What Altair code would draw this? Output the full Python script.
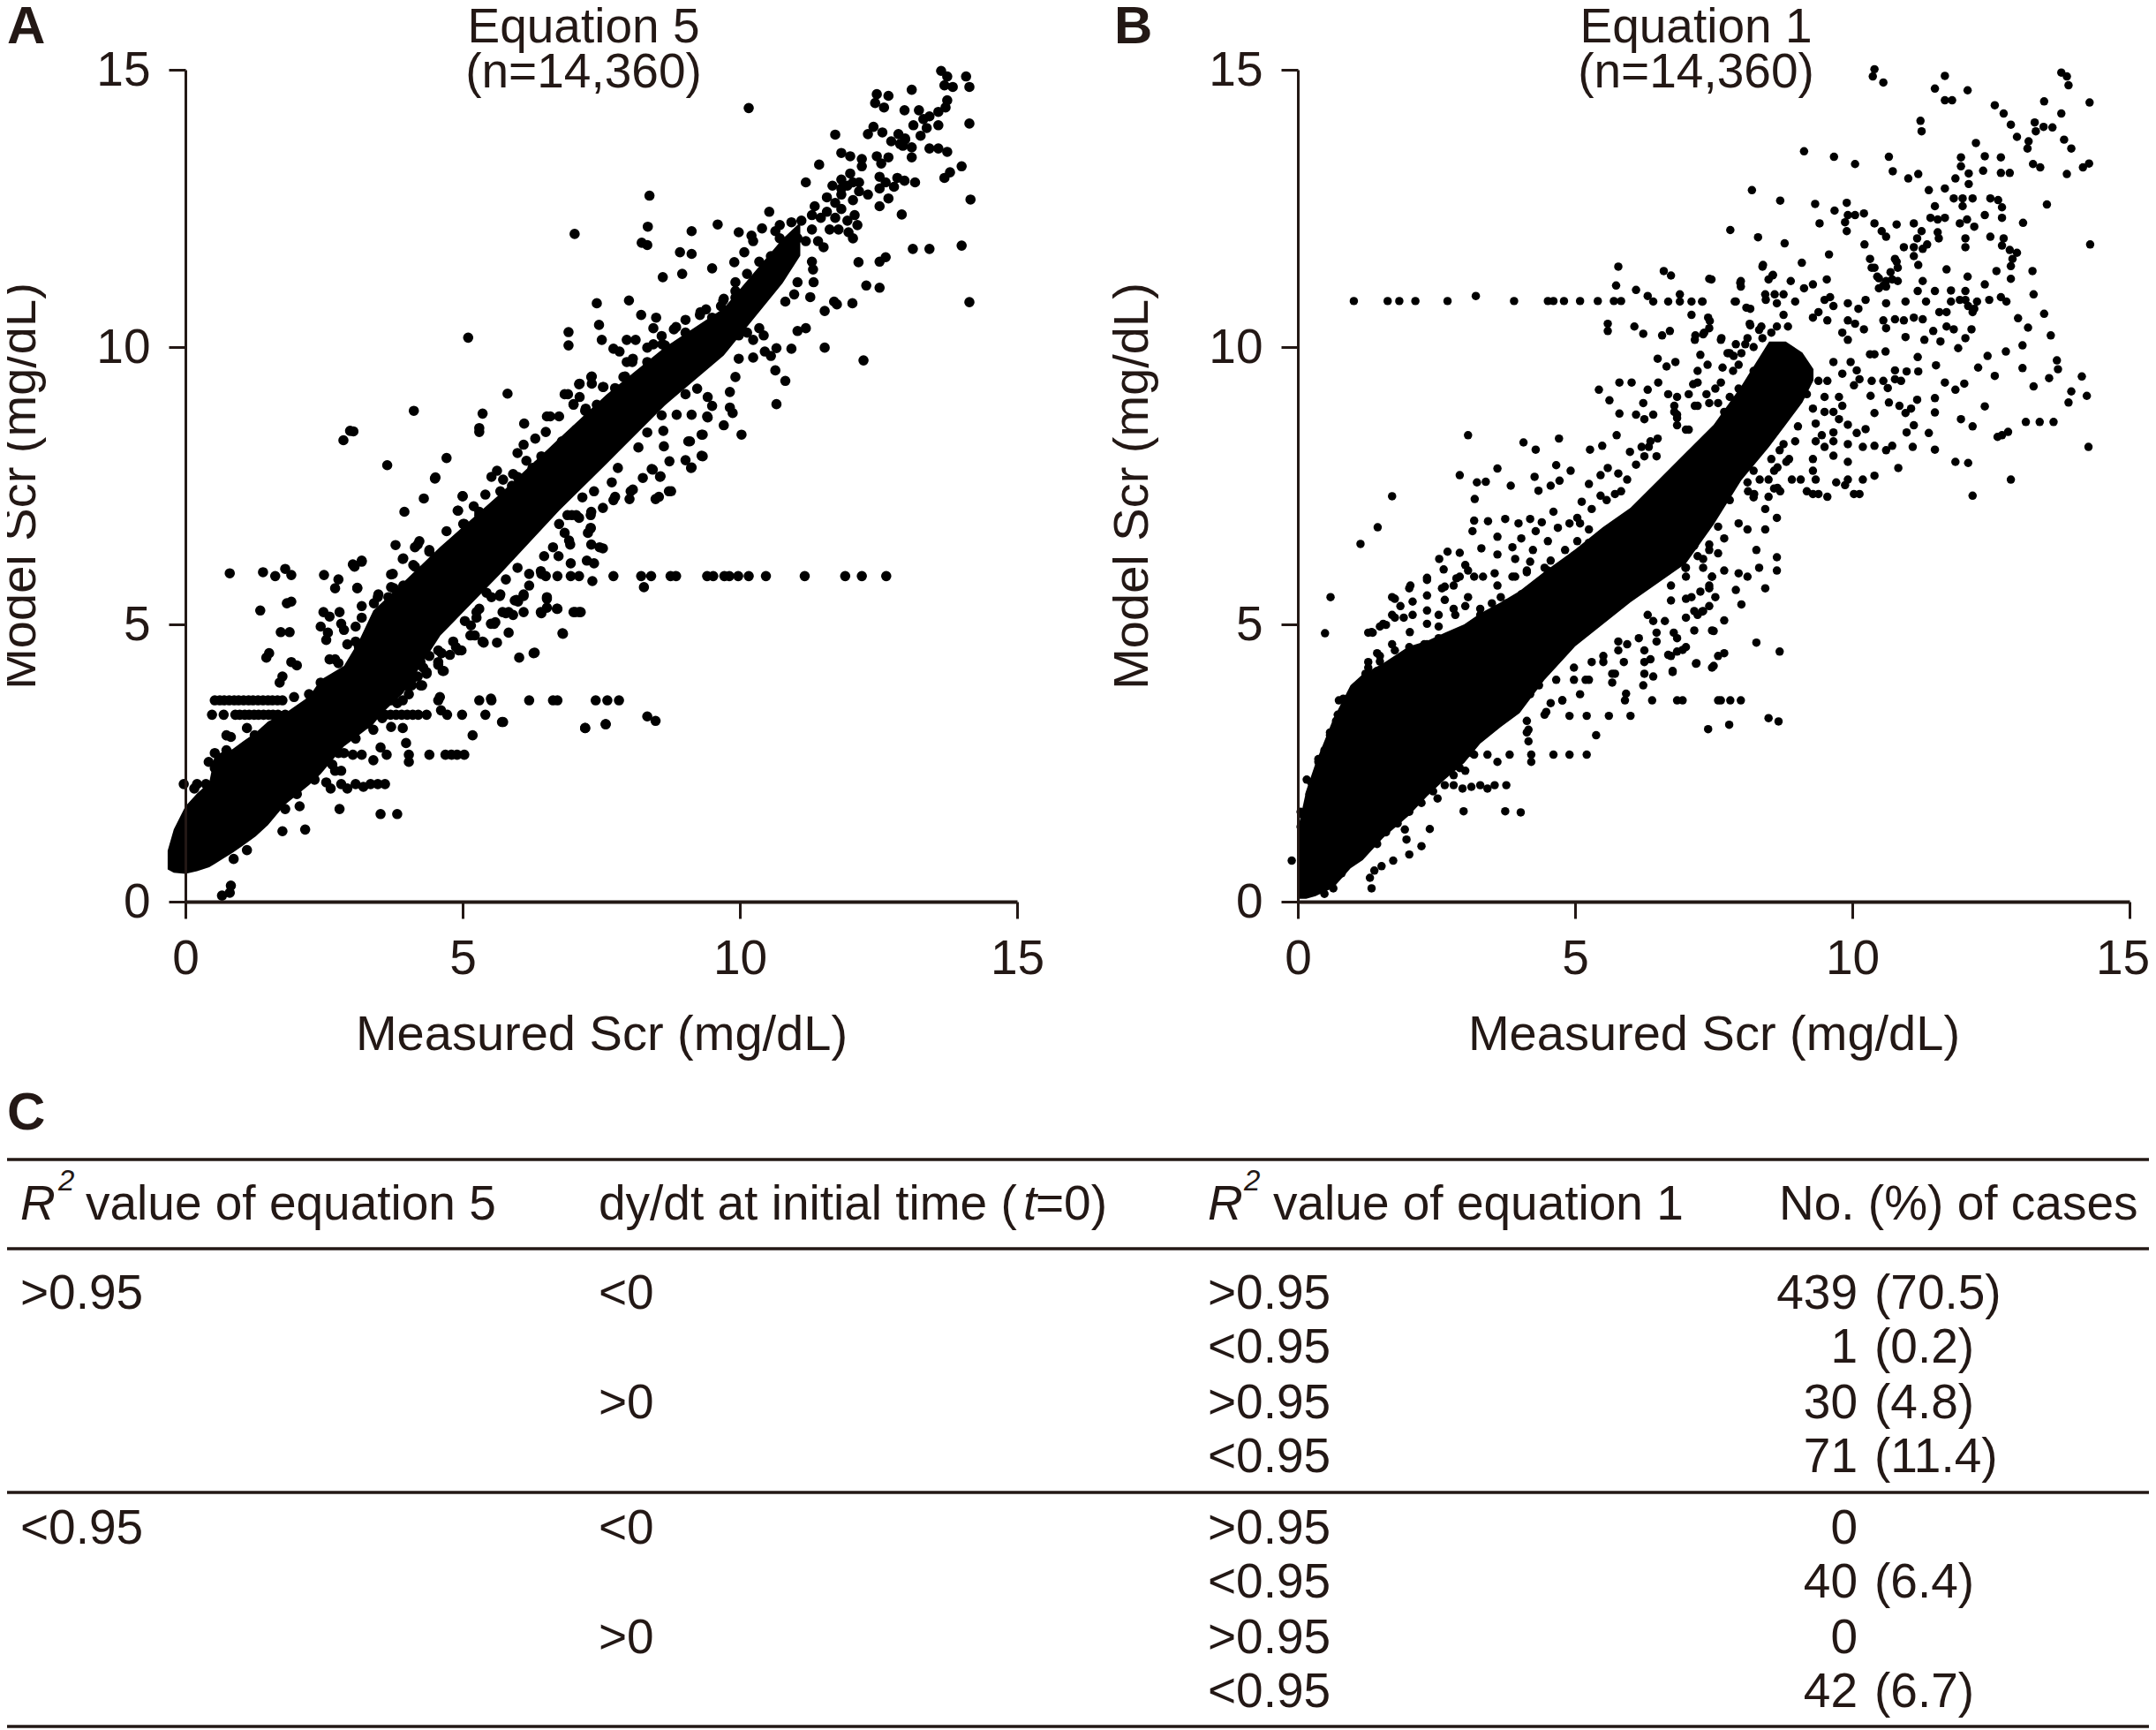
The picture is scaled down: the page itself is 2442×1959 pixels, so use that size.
import altair as alt
import pandas as pd

INK = "#231815"
FONT = "Liberation Sans"
FS = 55

# ---- Panel A: solid part of the cloud read as x / lower / upper edges -----
A_CORE = [(-0.32,.58,.92),(-.21,.52,1.3),(0,.5,1.72),(.21,.55,1.95),(.43,.62,2.15),(.53,.68,2.65),(.85,.88,2.75),(1.05,1.02,2.9),
(1.27,1.18,3.05),(1.49,1.38,3.25),(1.8,1.75,3.4),(2.23,2.1,3.7),(2.44,2.3,4.0),(2.86,2.8,4.25),(3.13,3.0,4.7),(3.39,3.2,5.25),
(3.55,3.4,5.4),(3.92,3.75,5.75),(4.6,4.8,6.4),(5.67,5.9,7.35),(6.74,7.05,8.35),(7.6,7.9,9.15),(8.65,8.95,10.0),(9.71,9.85,10.7),
(10.77,11.15,11.95),(11.09,11.65,12.25)]

# rows of points sharing one model value
A_ROWS = [
(5.87,[6.5,6.71,6.95,7.1,7.72,8.22,8.4,8.75,8.85,9.41,9.52,9.72,9.81,9.97,10.16,10.47,11.17,11.9,12.2,12.64]),
(3.63,[.53,.62,.7,.79,.88,.96,1.05,1.14,1.22,1.31,1.4,1.49,1.57,1.66,1.75,3.71,3.92,4.56,5.3,5.52,6.2,6.63,6.71,7.4,7.61,7.82]),
(3.37,[.48,.69,.9,.98,1.07,1.15,1.24,1.32,1.41,1.5,1.58,1.67,1.8,3.5,3.6,3.7,3.8,3.9,4.0,4.1,4.2,4.35,4.72,4.99,5.41]),
(2.65,[3.02,3.18,3.63,4.03,4.4,4.69,4.8,4.9,5.03]),
(2.12,[-.03,.21,.37,.56,2.81,3.07,3.34,3.47,3.6]),
]
A_POINTS = [(13.63,14.98),(13.74,14.88),(13.84,14.69),(13.69,14.72),(14.08,14.88),(14.14,14.69),(13.10,14.64),(12.47,14.56),
(12.68,14.53),(12.44,14.40),(12.60,14.32),(13.74,14.45),(13.71,14.32),(12.97,14.27),(13.23,14.27),(13.42,14.16),(13.58,14.24),
(13.58,14.0),(13.31,14.11),(13.13,14.0),(13.37,13.95),(13.26,13.81),(14.14,14.03),(11.72,13.83),(12.41,13.97),(12.31,13.84),
(12.57,13.87),(12.73,13.71),(12.86,13.84),(12.98,13.74),(13.10,13.60),(13.10,13.42),(12.94,13.63),(13.42,13.58),(13.58,13.58),
(13.74,13.52),(11.83,13.50),(11.99,13.44),(12.20,13.39),(12.20,13.26),(12.47,13.44),(12.68,13.42),(12.55,13.31),(11.43,13.29),
(14.0,13.26),(13.79,13.15),(13.69,13.05),(11.19,12.97),(11.99,13.13),(11.83,13.02),(11.94,12.91),(11.67,12.91),(12.15,12.97),
(12.52,13.07),(12.63,12.97),(12.52,12.86),(12.84,13.05),(12.97,13.0),(13.16,12.97),(12.78,12.89),(14.16,12.66),(12.31,12.75),
(12.68,12.68),(12.52,12.54),(12.92,12.39),(11.57,12.70),(11.83,12.75),(11.35,12.54),(11.57,12.44),(12.04,12.65),(12.07,12.38),
(11.94,12.28),(12.12,12.2),(11.96,12.07),(12.04,11.96),(11.62,12.12),(11.78,12.12),(10.53,12.44),(8.37,12.73),(10.16,14.31),
(8.34,12.17),(8.23,11.88),(8.33,11.84),(7.02,12.04),(9.13,12.09),(9.60,12.21),(9.98,12.07),(10.21,12.01),(10.24,11.91),(10.4,12.14),
(10.72,12.2),(10.72,11.96),(10.93,12.25),(11.11,12.28),(10.64,12.09),(8.92,11.71),(9.13,11.68),(10.08,11.71),(9.9,11.53),(9.5,11.42),
(8.96,11.32),(8.61,11.26),(11.30,11.54),(11.32,11.4),(11.33,11.17),(11.27,10.9),(12.14,11.53),(12.52,11.54),(12.63,11.62),(13.12,11.77),
(13.42,11.77),(14.0,11.83),(12.28,11.11),(12.52,11.07),(14.14,10.81),(9.92,11.17),(9.71,10.87),(11.04,11.17),(10.98,10.95),(10.82,10.82),
(11.75,10.77),(11.53,10.65),(12.03,10.79),(11.70,10.82),(7.42,10.79),(8.0,10.84),(8.22,10.58),(8.49,10.53),(8.44,10.34),(9.02,10.49),
(8.81,10.32),(7.46,10.4),(6.91,10.27),(6.91,10.03),(7.51,10.13),(7.72,9.97),(7.83,9.92),(7.96,10.13),(8.12,10.13),(11.04,10.29),(11.19,10.34),
(10.93,9.97),(11.53,9.99),(12.23,9.76),(10.66,9.98),(10.45,9.92),(10.24,9.81),(9.98,9.79),(10.56,9.84),(10.35,10.34),(10.13,10.26),(10.43,10.21),
(9.98,10.21),(10.24,10.13),(8.44,10.05),(8.65,10.03),(8.07,9.79),(8.33,9.73),(9.92,9.46),(10.64,9.58),(10.82,9.39),(10.66,8.97),(9.82,9.19),
(9.82,8.91),(9.87,8.81),(9.71,8.59),(10.03,8.42),(9.42,9.1),(9.5,8.94),(9.42,8.73),(9.31,8.42),(9.1,8.3),(8.62,8.49),(8.63,8.21),(8.73,7.94),
(9.31,8.04),(9.02,7.96),(9.13,7.83),(8.41,7.8),(8.57,7.67),(8.25,7.64),(8.07,7.43),(8.76,7.4),(8.54,7.3),(7.75,7.3),(8.86,8.78),(9.13,8.78),
(7.33,9.47),(7.33,9.34),(7.11,9.34),(7.54,9.28),(6.9,9.15),(7.11,9.1),(7.0,8.97),(7.22,8.89),(7.43,8.94),(6.74,8.75),(6.58,8.75),(7.75,9.26),(7.93,9.47),
(5.1,10.17),(2.97,8.49),(2.85,8.32),(4.12,8.85),(5.81,9.16),(5.36,8.8),(5.3,8.54),(5.3,8.47),(3.64,7.87),(4.71,8.0),(4.51,7.65),(4.3,7.27),(3.95,7.03),
(3.03,8.48),(6.84,9.15),(7.1,9.33),(7.32,9.46),(7.53,9.28),(7.0,8.96),(7.21,8.85),(7.42,8.96),(6.52,8.75),(6.11,8.62),(6.5,8.47),(6.31,8.35),(6.1,8.24),
(5.99,8.09),(6.15,7.95),(6.36,7.87),(5.62,7.77),(5.52,7.66),(5.73,7.61),(5.91,7.71),(5.89,7.5),(6.07,7.61),(5.0,7.31),(5.41,7.34),(5.2,7.13),(4.92,7.05),
(5.3,7.03),(5.01,6.81),(4.71,6.68),(5.2,6.6),(3.79,6.43),(4.22,6.5),(4.14,6.39),(4.4,6.31),(3.93,6.19),(4.14,6.04),(3.18,6.15),(3.05,6.04),(3.71,5.9),
(4.88,6.44),(4.62,6.2),(3.1,5.65),(3.48,5.54),(3.71,5.67),(9.41,8.75),(9.33,8.42),(9.07,8.3),(9.12,7.82),(9.33,8.03),(8.43,7.79),(8.56,7.66),(8.03,7.4),
(8.01,7.26),(8.72,7.4),(8.48,7.26),(7.72,7.24),(7.53,7.1),(7.32,7.03),(6.97,6.97),(7.31,6.74),(6.92,6.51),(7.32,6.44),(7.53,6.37),(6.95,6.1),(7.24,6.15),
(7.37,6.1),(8.27,5.67),(7.34,5.78),(6.52,5.49),(6.52,5.3),(6.42,5.2),(6.71,5.28),(7.03,5.22),(7.13,5.22),(6.1,5.22),(5.78,5.2),(5.91,5.17),(5.68,5.54),
(6.1,5.54),(5.97,5.44),(5.57,5.01),(5.83,4.85),(5.62,4.67),(6.8,4.84),(6.3,4.49),(6.02,4.4),(5.36,4.69),(4.93,4.53),(4.77,4.45),(4.56,4.27),(4.64,4.16),
(4.35,4.14),(4.19,4.06),(4.27,3.9),(5.25,5.12),(5.15,4.98),(5.73,3.24),(8.33,3.34),(8.48,3.26),(7.58,3.2),(7.21,3.13),(.8,5.92),(1.4,5.94),(1.62,5.87),
(1.8,6.0),(1.91,5.89),(2.5,5.89),(2.76,5.81),(2.7,5.65),(3.1,5.66),(3.02,6.08),(3.18,6.13),(1.35,5.25),(1.83,5.38),(1.91,5.41),(1.72,4.86),(1.88,4.86),
(1.51,4.48),(1.46,4.4),(1.91,4.32),(2.01,4.26),(1.75,4.06),(1.7,3.95),(2.49,5.22),(2.6,5.14),(2.78,5.22),(2.44,4.96),(2.57,4.85),(2.54,4.72),(2.86,4.9),
(3.07,4.96),(2.92,4.64),(3.13,4.59),(2.6,4.37),(2.76,4.3),(2.86,4.14),(3.74,5.91),(3.92,6.18),(4.19,6.44),(4.11,6.07),(3.18,5.33),(3.47,5.49),(3.76,5.65),
(4.5,7.63),(5.0,7.31),(4.91,7.05),(5.03,6.81),(1.11,3.13),(1.25,3.0),(.74,3.0),(.82,2.97),(2.54,2.15),(2.62,2.04),(2.92,2.04),(3.21,2.07),(2.06,1.72),
(2.78,1.67),(3.52,1.58),(3.82,1.58),(2.16,1.3),(1.75,1.27),(1.8,1.67),(1.11,.93),(.87,.77),(.82,.29),(.8,.16),(.66,.11),(3.39,2.55),(3.52,2.78),(4.03,2.52),
(3.98,2.86),(5.18,3.0),(2.76,2.68),(2.7,2.36),(2.81,2.36),(3.39,3.1),(3.71,3.15),(3.92,3.13),(2.89,3.0),(4.59,3.69),(4.61,3.45),(5.71,3.24),(5.51,3.66),
(7.21,3.13),(7.58,3.2),(4.03,3.74),(6.81,4.83),(6.28,4.48),(5.38,4.67),(5.59,5.04),(5.22,4.8),(4.98,4.53),(4.56,4.32),(4.66,4.16),(4.24,4.32),(4.35,4.11),
(4.24,3.9),(4.08,4.0),(5.83,5.22),(5.72,5.22),(6.41,5.22),(6.7,5.28),(6.52,5.46),(7.0,5.22),(7.1,5.22),(5.67,5.51),(6.1,5.51),(6.0,5.41),(5.43,5.57),(5.25,5.22)]
# points along the rough edges of the band
A_EDGE = [(7.69,9.04),(7.9,9.46),(8.06,9.73),(8.33,9.99),(8.59,10.2),(8.85,10.36),(9.28,10.58),(9.39,10.68),(9.7,10.84),(9.92,10.89),(10.18,11.0),
(9.02,9.15),(9.23,9.25),(8.59,8.77),(8.33,8.46),(8.17,8.19),(7.8,7.82),(7.69,7.56),(7.37,7.4),(7.16,7.29),(7.05,6.97),(6.74,6.81),(6.84,6.65),(6.63,6.39),
(6.47,6.23),(6.2,5.91),(6.42,5.91),(5.99,6.02),(5.78,5.81),(5.52,5.49),(5.3,5.28),(5.04,5.06),(4.83,4.69),(4.62,4.48),(4.4,4.43),(4.08,4.22),(3.98,3.9),
(7.05,8.51),(6.79,8.3),(6.42,8.03),(6.26,7.82),(5.99,7.66),(5.68,7.4),(5.3,6.97),(5.15,6.76),(5.04,6.5),(4.83,6.34),(4.4,6.34),(4.51,6.02),(4.19,5.75),
(3.93,5.7),(3.66,5.49),(3.4,5.38),(3.18,5.12),(2.81,5.01),(3.07,4.69),(2.7,4.37),(2.44,3.95),(2.23,3.74),(1.96,3.69),(2.07,3.42),(1.43,3.05),(1.06,2.78),
(.74,2.73),(.53,2.68),(.53,2.41),(.42,2.52),(.16,2.04),(2.01,1.94),(2.33,2.2),(2.65,2.47),(2.86,2.68),(3.07,2.94),(3.29,3.21),(3.55,3.31),(3.82,3.58),
(4.08,3.9),(4.29,4.22),(4.56,4.53),(4.88,4.59),(5.14,4.8),(5.51,5.01),(5.94,5.43),(6.2,5.7),(6.41,5.96),(6.73,6.23),(6.94,6.44),(7.26,6.65),(7.47,6.39),
(7.1,6.92),(6.89,6.97),(7.31,6.97),(7.31,6.73),(7.96,9.73),(8.23,9.52),(8.6,10.05),(9.02,10.26),(9.29,10.63),(9.5,10.53),(9.66,10.74),(9.92,11.01),
(10.13,11.32),(10.35,11.54),(10.56,11.64),(10.77,11.75),(11.04,11.96),(11.3,12.12),(11.46,12.33),(11.19,11.91),(11.41,11.91),(11.51,11.8),(11.83,12.86),
(12.04,12.97),(12.15,12.81),(11.72,12.6),(11.83,12.49),(11.72,12.33),(11.3,12.38),(12.98,13.76),(12.89,13.66)]

# ---- Panel B -----
B_CORE = [(0,.05,1.3),(.15,.05,2.0),(.32,.1,2.5),(.64,.25,3.3),(.95,.6,3.9),(1.17,.75,4.1),(1.54,1.15,4.3),(2,1.55,4.6),(2.33,1.9,4.7),
(2.65,2.2,4.85),(3,2.5,5.0),(3.29,2.85,5.2),(3.66,3.15,5.4),(4,3.4,5.6),(4.45,4.0,5.95),(5,4.6,6.35),(5.5,5.0,6.75),(6,5.4,7.1),(6.5,5.75,7.6),
(7,6.1,8.1),(7.5,6.8,8.6),(8,7.6,9.3),(8.5,8.2,10.1),(8.8,8.6,10.1),(9.1,9.0,9.9),(9.3,9.4,9.6)]
B_ROWS = [
(10.83,[1.01,1.62,1.83,2.12,2.7,3.9,4.51,4.61,4.8,5.09,5.41,5.7,5.83]),
(3.63,[5.9,6.39,6.84,6.94,7.58,7.63,7.8,7.99]),
(3.35,[4.9,5.21,5.61,6.0]),
(2.65,[2.78,3.18,3.42,3.82,4.21,4.61,4.9,5.21]),
(2.1,[2.81,3.29,3.55,3.76]),
]
B_POINTS = [(10.4,15.01),(10.37,14.88),(10.56,14.77),(11.67,14.89),(11.49,14.66),(12.08,14.63),(11.67,14.45),(11.8,14.45),(13.77,14.95),(13.87,14.88),
(13.9,14.72),(13.46,14.43),(14.28,14.41),(12.57,14.36),(12.73,14.21),(12.86,14.01),(12.97,13.79),(13.77,14.21),(13.29,14.05),(13.31,13.89),(13.45,13.97),
(13.61,13.96),(13.18,13.71),(13.16,13.58),(13.82,13.74),(13.95,13.58),(11.23,14.08),(11.25,13.89),(9.13,13.53),(9.67,13.43),(10.05,13.3),(10.66,13.43),
(10.73,13.17),(11.01,13.04),(11.19,13.12),(12.23,13.68),(12.39,13.44),(11.96,13.42),(11.96,13.26),(12.68,13.42),(12.36,13.18),(12.68,13.14),(12.84,13.14),
(13.26,13.3),(13.39,13.24),(13.87,13.12),(14.16,13.24),(14.27,13.31),(11.86,13.04),(12.1,13.13),(12.1,12.94),(11.38,12.83),(11.67,12.86),(11.83,12.68),
(11.99,12.68),(12.17,12.68),(11.99,12.54),(12.49,12.68),(12.63,12.65),(12.7,12.52),(13.51,12.57),(11.49,12.54),(8.19,12.83),(8.7,12.64),(9.33,12.58),
(9.9,12.6),(9.68,12.46),(9.92,12.38),(10.05,12.38),(10.21,12.41),(9.87,12.25),(9.41,12.23),(9.9,12.09),(10.4,12.23),(10.53,12.09),(10.61,11.99),(10.8,12.21),
(7.8,12.11),(8.3,11.98),(8.78,11.87),(10.22,11.85),(9.58,11.67),(11.11,12.23),(11.41,12.33),(11.54,12.3),(11.67,12.33),(11.25,12.09),(11.54,12.07),(11.56,11.96),
(11.17,11.96),(11.35,11.85),(10.93,11.8),(11.11,11.8),(11.27,11.77),(11.11,11.64),(11.19,11.48),(11.94,12.23),(12.07,12.3),(12.2,12.17),(12.04,11.96),(12.04,11.8),
(12.39,12.38),(12.7,12.33),(13.08,12.24),(12.49,11.99),(12.73,11.96),(12.7,11.83),(12.84,11.75),(12.97,11.7),(12.89,11.59),(12.86,11.46),(14.29,11.85),(10.32,11.59),
(10.4,11.43),(10.48,11.24),(10.8,11.54),(10.69,11.35),(10.61,11.19),(10.82,11.19),(10.48,11.06),(10.61,11.09),(8.39,11.48),(9.09,11.52),(11.7,11.4),(12.08,11.27),
(12.6,11.37),(12.86,11.23),(13.25,11.37),(12.39,11.13),(11.27,11.19),(13.27,10.95),(7.46,11.22),(7.99,11.19),(7.99,11.09),(8.57,11.3),(8.49,11.22),(8.89,11.19),
(9.13,11.06),(9.29,11.13),(9.54,11.22),(11.18,11.01),(11.49,11.01),(11.78,11.02),(12.04,11.01),(12.04,10.85),(11.33,10.82),(10.96,10.82),(10.61,10.79),(11.78,10.82),
(11.94,10.85),(12.25,10.82),(12.47,10.85),(12.68,10.9),(12.78,10.82),(11.57,10.63),(11.7,10.63),(12.17,10.63),(7.3,10.82),(7.88,10.82),(8.09,10.71),(8.44,10.85),
(8.6,10.95),(8.76,10.95),(8.97,10.82),(9.5,10.85),(9.6,10.9),(9.66,10.74),(9.92,10.79),(10.24,10.85),(10.11,10.69),(9.39,10.63),(9.29,10.53),(9.55,10.48),(9.92,10.48),
(10.05,10.42),(10.21,10.32),(9.82,10.26),(9.92,10.13),(8.76,10.58),(8.84,10.37),(8.15,10.42),(8.36,10.37),(7.43,10.47),(7.33,10.26),(7.64,10.16),(7.17,10.21),
(10.56,10.48),(10.77,10.5),(10.93,10.48),(11.11,10.53),(11.27,10.5),(10.61,10.34),(10.96,10.18),(11.3,10.13),(11.46,10.29),(11.59,10.1),(11.7,10.37),(11.83,10.32),
(12.15,10.32),(12.04,10.16),(11.91,9.98),(12.99,10.52),(13.17,10.35),(13.46,10.6),(13.58,10.21),(13.07,10.03),(12.77,9.92),(12.44,9.84),(12.27,9.63),(12.57,9.48),
(13.07,9.62),(13.69,9.76),(13.71,9.6),(13.55,9.44),(13.27,9.29),(14.14,9.47),(13.95,9.2),(13.9,9.0),(14.23,9.12),(10.32,9.87),(10.4,9.87),(10.6,9.92),(11.18,9.82),
(11.51,9.67),(10.98,9.56),(11.19,9.56),(11.67,9.36),(11.86,9.23),(12.02,9.34),(9.97,9.73),(10.08,9.58),(10.13,9.42),(9.82,9.52),(10.35,9.39),(10.56,9.39),(10.77,9.42),
(10.88,9.39),(10.64,9.26),(10.03,9.31),(9.39,9.39),(9.55,9.39),(9.66,9.73),(10.33,9.12),(11.49,9.08),(10.66,9.0),(10.85,8.94),(10.96,8.81),(11.17,9.05),(11.06,8.89),
(11.49,8.82),(10.4,8.81),(12.39,8.93),(11.96,8.7),(12.17,8.57),(10.98,8.46),(11.11,8.59),(11.38,8.45),(13.13,8.65),(13.38,8.65),(13.63,8.65),(12.7,8.41),(12.81,8.47),
(12.62,8.38),(14.26,8.2),(9.5,9.1),(9.76,9.1),(9.5,8.83),(9.66,8.83),(9.82,8.94),(9.76,8.7),(9.92,8.6),(10.08,8.45),(10.24,8.52),(9.34,8.3),(9.5,8.2),(9.66,8.3),(9.92,8.25),
(10.19,8.2),(10.4,8.22),(10.61,8.14),(10.72,8.22),(11.09,8.2),(11.49,8.15),(11.86,7.93),(12.09,7.91),(10.83,7.82),(12.86,7.61),(12.17,7.32),(9.29,7.98),(9.29,7.77),(9.66,8.04),
(9.92,7.93),(9.07,7.61),(9.18,7.4),(9.39,7.35),(9.71,7.56),(9.92,7.61),(10.19,7.61),(10.4,7.68),(10.13,7.35),(8.81,7.93),(8.65,7.83),(8.49,7.61),(8.7,7.4),(8.23,7.35),
(3.21,10.92),(6.1,11.03),(6.31,10.92),(6.41,10.82),(6.68,10.82),(6.89,10.95),(6.89,10.82),(7.1,10.82),(7.29,10.82),(7.1,10.58),(5.74,11.11),(5.78,11.45),(6.6,11.37),(6.73,11.29),
(7.42,11.23),(7.98,11.16),(7.9,10.82),(8.16,10.69),(8.56,11.29),(8.38,11.45),(5.59,10.42),(5.59,10.29),(6.07,10.37),(6.23,10.24),(6.57,10.21),(6.71,10.29),(7.4,10.53),(7.42,10.34),
(7.31,10.23),(7.16,10.13),(7.63,10.13),(6.49,9.79),(6.65,9.65),(6.81,9.73),(7.26,9.86),(7.39,9.68),(7.21,9.57),(7.13,9.33),(7.66,9.63),(5.8,9.36),(6.02,9.36),(6.5,9.36),(5.43,9.23),
(5.62,9.04),(5.8,8.8),(6.31,9.23),(6.23,8.99),(6.1,8.78),(6.25,8.7),(6.41,8.78),(6.68,9.15),(6.84,9.1),(3.07,8.41),(4.07,8.28),(4.29,8.15),(4.71,8.35),(5.27,8.15),(5.49,8.22),
(5.75,8.41),(5.99,8.11),(6.49,8.35),(6.33,8.2),(6.25,8.03),(6.84,8.78),(6.84,8.59),(7.05,8.51),(3.6,7.81),(2.92,7.69),(3.23,7.56),(3.39,7.57),(3.84,7.5),(4.27,7.66),(4.66,7.87),
(4.92,7.77),(4.72,7.59),(4.56,7.5),(4.34,7.41),(5.25,7.53),(5.59,7.82),(5.46,7.69),(5.78,7.72),(1.7,7.31),(3.19,7.26),(5.12,7.21),(5.46,7.32),(5.72,7.35),(4.61,7.03),(1.44,6.75),
(1.13,6.45),(3.18,6.87),(3.15,6.68),(3.43,6.86),(3.74,6.9),(3.98,6.82),(4.19,6.9),(4.4,6.84),(4.69,6.74),(4.9,6.82),(5.09,6.82),(4.29,6.68),(3.31,6.37),(3.6,6.58),(3.6,6.26),(3.87,6.39),
(4.03,6.55),(4.24,6.34),(4.51,6.5),(4.56,6.15),(4.82,6.34),(5.04,6.5),(5.25,6.47),(3.92,6.18),(4.19,6.13),(2.7,6.31),(2.55,6.18),(2.63,5.99),(2.92,6.29),(3.02,6.07),(2.33,5.84),(2.03,5.7),
(2.33,5.52),(2.65,5.68),(2.92,5.86),(2.81,5.7),(3.18,5.86),(3.55,5.92),(3.92,5.86),(4.13,5.94),(4.51,5.97),(1.75,5.46),(1.7,5.17),(2.07,5.41),(2.33,5.25),(2.65,5.44),(2.84,5.17),(3.07,5.49),
(3.29,5.17),(3.66,5.49),(1.33,4.86),(1.59,4.99),(1.91,5.12),(2.02,4.86),(2.54,4.96),(1.43,4.48),(1.7,4.64),(2.33,4.64),(2.65,4.7),(2.92,4.86),(1.27,4.22),(1.48,4.33),(1.8,4.27),(2.54,4.38),
(2.86,4.38),(1.27,3.9),(1.59,3.95),(1.86,3.9),(2.23,4.01),(2.49,3.85),(.59,5.49),(.49,4.84),(1.35,4.85),(1.48,4.96),(1.22,4.06),(.82,3.66),(.95,3.66),(.72,3.37),(.58,3.0),(.8,2.94),
(.37,2.52),(.58,2.57),(.24,2.15),(.08,1.57),(-.11,.74),(.4,1.94),(2.38,1.31),(2.23,1.0),(2.01,.85),(1.72,.74),(1.51,.64),(1.38,.56),(1.3,.43),(1.33,.24),(1.93,1.3),(1.96,1.12),(2.99,1.63),
(3.74,1.63),(4.02,1.61),(2.52,1.86),(2.23,1.78),(2.97,2.04),(3.13,2.07),(3.42,2.04),(2.81,2.28),(3.02,2.36),(3.6,2.52),(4.21,2.52),(4.16,3.1),(4.16,2.89),(4.13,3.26),(5.38,3.0),(4.48,3.42),
(8.49,3.31),(8.67,3.25),(7.4,3.11),(7.78,3.19),(5.92,3.75),(6.23,3.9),(5.72,4.11),(5.67,3.95),(5.09,3.74),(4.77,3.63),(5.19,4.0),(4.98,4.0),(5.51,4.32),(5.88,4.32),(6.25,4.32),(6.41,4.06),
(6.76,4.16),(7.19,4.3),(7.47,4.22),(7.58,4.43),(7.0,4.59),(6.84,4.51),(6.68,4.45),(7.47,4.89),(7.15,4.89),(6.78,4.85),(7.31,5.24),(7.15,5.24),(7.0,5.46),(6.47,4.85),(6.31,5.17),(6.15,4.75),
(5.78,4.69),(6.99,6.02),(7.31,6.02),(7.42,5.7),(7.15,6.42),(7.47,5.86),(6.73,5.7),(6.57,6.28),(7.58,6.28),(7.9,5.62),(8.43,5.65),(8.0,5.36),(7.69,5.07),(7.29,5.23),(7.5,4.88),(8.27,4.67),
(8.69,4.51),(7.69,4.48),(7.5,4.25),(7.18,4.29),(6.76,4.14),(6.94,4.54),(6.73,4.43),(7.95,5.92),(8.11,5.86),(7.69,5.97),(7.47,5.86),(7.42,5.65),(7.31,6.18),(7.0,6.02),(8.64,6.21),(8.32,6.02),
(8.64,5.97),(8.27,6.34),(8.43,6.71),(8.11,6.71),(7.69,6.55),(7.42,6.34),(7.16,6.45),(7.95,6.82),(8.22,7.29),(8.43,7.08),(8.64,6.92),(7.79,7.24),(7.37,6.92),(7.58,6.76),(8.59,7.45),(8.59,7.77),
(8.22,7.77),(8.11,7.56),(8.43,8.3),(8.69,8.14),(7.9,10.05),(8.11,10.16),(8.32,10.31),(8.64,10.37),(8.16,10.39),(8.43,10.95),(8.64,10.79),(7.79,9.89),(7.95,9.68),(7.63,9.36),(7.37,9.15),
(7.21,8.94),(6.79,8.83),(7.69,8.83),(7.95,9.25),(7.85,9.57),(7.58,8.99),(8.22,9.15),(8.22,9.57)]
B_EDGE = [(1.7,5.49),(1.85,5.33),(2.01,5.65),(2.33,5.8),(2.6,5.65),(2.86,5.83),(3.07,5.97),(3.34,5.86),(3.6,5.7),(3.87,5.86),(4.13,5.97),(4.45,6.02),(4.72,5.97),
(1.27,4.85),(1.54,5.01),(1.75,5.12),(2.07,5.17),(2.33,5.01),(2.54,5.17),(2.81,5.28),(3.02,5.33),(3.29,5.28),(3.5,5.38),(3.76,5.38),(4.03,5.54),
(1.27,4.32),(1.48,4.43),(1.75,4.53),(2.01,4.59),(2.28,4.64),(2.54,4.75),(2.76,4.8),(1.22,4.11),(1.43,4.16),(1.64,4.0),(.74,3.63),(1.06,3.74),(.95,3.42),(.69,3.26),
(.58,3.05),(.48,2.73),(.37,2.57),(.16,2.2),(.21,1.94),(.05,1.62),(.05,1.35),(4.19,3.74),(4.35,3.9),(4.56,3.58),(4.45,3.37),(4.77,3.63),(4.66,4.0),(4.98,4.22),(5.25,4.0),
(5.3,4.32),(5.51,4.43),(5.78,4.53),(5.67,4.11),(5.94,4.64),(6.25,4.53),(6.25,4.11),(6.36,4.37),(6.47,4.69),(6.84,4.75),(7.0,5.12),(6.62,5.06),(6.41,5.06),(7.21,5.17),
(7.42,5.33),(7.53,5.49),(7.1,5.49),(6.73,5.43),(7.26,5.59),(7.0,5.86),(7.21,6.23),(7.42,6.44),(7.0,6.44),(6.78,6.23),(4.03,3.58),(4.13,3.05),(3.39,3.16),(3.6,3.26),(3.82,3.42),
(3.13,2.68),(2.92,2.41),(2.65,2.1),(2.44,1.99),(2.17,1.94),(2.01,1.62),(1.8,1.41),(1.59,1.25),(1.43,1.04),(1.17,.88),(.95,.72),(.79,.51),(.64,.24),(.48,.14),
(6.79,8.94),(7.0,8.51),(7.16,8.94),(7.42,8.99),(6.84,8.72),(6.2,8.2),(6.36,8.3),(6.47,8.03),(6.1,7.88),(5.94,7.61),(5.83,7.4),(5.57,7.24),(5.3,7.08),(5.04,6.92),(5.25,6.71),
(8.0,9.89),(8.22,10.0),(8.38,10.16),(8.54,10.26),(7.21,9.36),(7.05,9.15),(7.53,9.25),(7.79,9.1),(7.95,8.99),(8.06,8.72),(7.69,8.67),(7.86,9.84),(7.75,9.89),(8.07,10.05),
(8.97,9.84),(9.07,9.52),(9.18,9.15),(9.29,8.89),(9.02,8.57),(8.76,8.25),(8.54,7.98),(8.33,7.61),(8.12,7.4),(8.86,7.98),(8.97,8.3),(9.34,8.62),(9.45,8.41),(9.66,8.46),(8.65,7.46),
(8.49,7.3),(7.8,7.51),(7.48,7.3),(8.91,7.61),(9.34,7.61),(9.55,7.3),(9.87,7.51),(10.03,7.35),(9.29,7.35),(10.77,9.58),(10.35,11.43),(10.45,11.27),(10.56,11.11),(10.72,11.22),
(10.82,11.43),(10.77,11.59),(12.09,10.74),(12.2,10.69)]

TICKS = [0, 5, 10, 15]
PW = 942

def panel(letter, heading, core, rows, points, dot, last_label_shift=0):
    xs = [p[0] for p in points] + [x for y, r in rows for x in r]
    ys = [p[1] for p in points] + [y for y, r in rows for x in r]
    pts = pd.DataFrame({"x": xs, "y": ys})
    cor = pd.DataFrame(core, columns=["x", "lo", "hi"])
    sx = alt.Scale(domain=[0, 15], nice=False, zero=False)
    sy = alt.Scale(domain=[0, 15], nice=False, zero=False)
    axis_common = dict(values=TICKS, grid=False, domainColor=INK, tickColor=INK, tickWidth=3,
                       tickSize=19, labelFont=FONT, labelFontSize=FS, labelColor=INK, titleFont=FONT,
                       titleFontSize=56, titleColor=INK, titleFontWeight="normal", format="d", zindex=1,
                       labelOverlap=False, labelFlush=False, labelBound=False)
    xax = alt.Axis(title="Measured Scr (mg/dL)", labelPadding=19, titlePadding=31, domainWidth=4,
                   labelOffset={"condition": {"test": "datum.value === 15", "value": last_label_shift}, "value": 0},
                   **axis_common)
    yax = alt.Axis(title="Model Scr (mg/dL)", labelPadding=21, titlePadding=57, domainWidth=3, **axis_common)
    area = alt.Chart(cor).mark_area(color="black", orient="vertical", opacity=1).encode(
        x=alt.X("x:Q", scale=sx, axis=xax), y=alt.Y("lo:Q", scale=sy, axis=yax), y2="hi:Q")
    dots = alt.Chart(pts).mark_circle(color="black", size=dot, opacity=1).encode(
        x=alt.X("x:Q", scale=sx), y=alt.Y("y:Q", scale=sy))
    line1 = alt.Chart(pd.DataFrame({"t": [heading[0]]})).mark_text(font=FONT, fontSize=FS, color=INK, align="center", baseline="alphabetic").encode(
        x=alt.value(451), y=alt.value(-31), text="t:N")
    line2 = alt.Chart(pd.DataFrame({"t": [heading[1]]})).mark_text(font=FONT, fontSize=FS, color=INK, align="center", baseline="alphabetic").encode(
        x=alt.value(451), y=alt.value(20), text="t:N")
    lab = alt.Chart(pd.DataFrame({"t": [letter[0]]})).mark_text(font=FONT, fontWeight="bold", fontSize=60, color=INK, align="left", baseline="alphabetic").encode(
        x=alt.value(letter[1]), y=alt.value(-30), text="t:N")
    return alt.layer(area, dots, line1, line2, lab).properties(width=PW, height=PW)

pa = panel(("A", -202), ["Equation 5", "(n=14,360)"], A_CORE, A_ROWS, A_POINTS + A_EDGE, 135)
pb = panel(("B", -208), ["Equation 1", "(n=14,360)"], B_CORE, B_ROWS, B_POINTS + B_EDGE, 90, -8)

# ---- Panel C: table -----
COL_PX = [8, 23, 66, 97, 678, 1159, 1173, 1368, 1409, 1442, 2015, 2104, 2123, 2434]
ROW_PX = [1261, 1313, 1338, 1364, 1414, 1465, 1526, 1589, 1650, 1690, 1731, 1792, 1855, 1916, 1955]
TOP = 1260
LEFT = 210
sxt = alt.Scale(domain=list(range(len(COL_PX))), range=[p - LEFT for p in COL_PX], nice=False, zero=False)
syt = alt.Scale(domain=list(range(len(ROW_PX))), range=[p - TOP for p in ROW_PX], nice=False, zero=False)

TXT = [
 (1, 3, "R", "italic", FS), (2, 2, "2", "italic", 33), (3, 3, "value of equation 5", "normal", FS),
 (4, 3, "dy/dt at initial time (", "normal", FS), (5, 3, "t", "italic", FS), (6, 3, "=0)", "normal", FS),
 (7, 3, "R", "italic", FS), (8, 2, "2", "italic", 33), (9, 3, "value of equation 1", "normal", FS),
 (10, 3, "No. (%) of cases", "normal", FS),
 (1, 5, ">0.95", "normal", FS), (1, 10, "<0.95", "normal", FS),
 (4, 5, "<0", "normal", FS), (4, 7, ">0", "normal", FS), (4, 10, "<0", "normal", FS), (4, 12, ">0", "normal", FS),
]
R2_1 = [">0.95", "<0.95", ">0.95", "<0.95", ">0.95", "<0.95", ">0.95", "<0.95"]
COUNTS = ["439", "1", "30", "71", "0", "40", "0", "42"]
PCTS = ["(70.5)", "(0.2)", "(4.8)", "(11.4)", "", "(6.4)", "", "(6.7)"]
BODY_ROWS = [5, 6, 7, 8, 10, 11, 12, 13]
RULES = [1, 4, 9, 14]

left_t = pd.DataFrame(TXT, columns=["c", "r", "t", "st", "fs"])
left_t = pd.concat([left_t, pd.DataFrame({"c": 7, "r": BODY_ROWS, "t": R2_1, "st": "normal", "fs": FS}),
                    pd.DataFrame({"c": 12, "r": BODY_ROWS, "t": PCTS, "st": "normal", "fs": FS})], ignore_index=True)
left_t = left_t[left_t.t != ""]

tbase = dict(x=alt.X("c:Q", scale=sxt, axis=None), y=alt.Y("r:Q", scale=syt, axis=None), text="t:N")
def tx(df, size, style="normal", align="left"):
    return alt.Chart(df).mark_text(font=FONT, fontSize=size, fontStyle=style, color=INK, align=align, baseline="middle").encode(**tbase)

parts = []
for (st, fs), g in left_t.groupby(["st", "fs"]):
    parts.append(tx(g[["c", "r", "t"]], int(fs), st))
parts.append(tx(pd.DataFrame({"c": 11, "r": BODY_ROWS, "t": COUNTS}), FS, "normal", "right"))
rules = alt.Chart(pd.DataFrame({"c": 0, "c2": len(COL_PX) - 1, "r": RULES})).mark_rule(color=INK, strokeWidth=3.5).encode(
    x=alt.X("c:Q", scale=sxt, axis=None), x2="c2:Q", y=alt.Y("r:Q", scale=syt, axis=None))
cc = alt.Chart(pd.DataFrame({"c": 0, "r": 0, "t": ["C"]})).mark_text(font=FONT, fontWeight="bold", fontSize=60, color=INK, align="left", baseline="middle").encode(**tbase)
table = alt.layer(rules, *parts, cc).properties(width=2202, height=700)

top = alt.hconcat(pa, pb, spacing=318, bounds="flush")
chart = alt.vconcat(top, table, spacing=TOP - 79, bounds="flush").properties(
    autosize=alt.AutoSizeParams(type="none"),
    padding={"left": 202, "top": 71, "right": 2426 - 202, "bottom": 1951 - 71},
    background="white",
).configure_view(stroke=None)

chart.save("out.html", embed_options={"renderer": "svg", "actions": False})
